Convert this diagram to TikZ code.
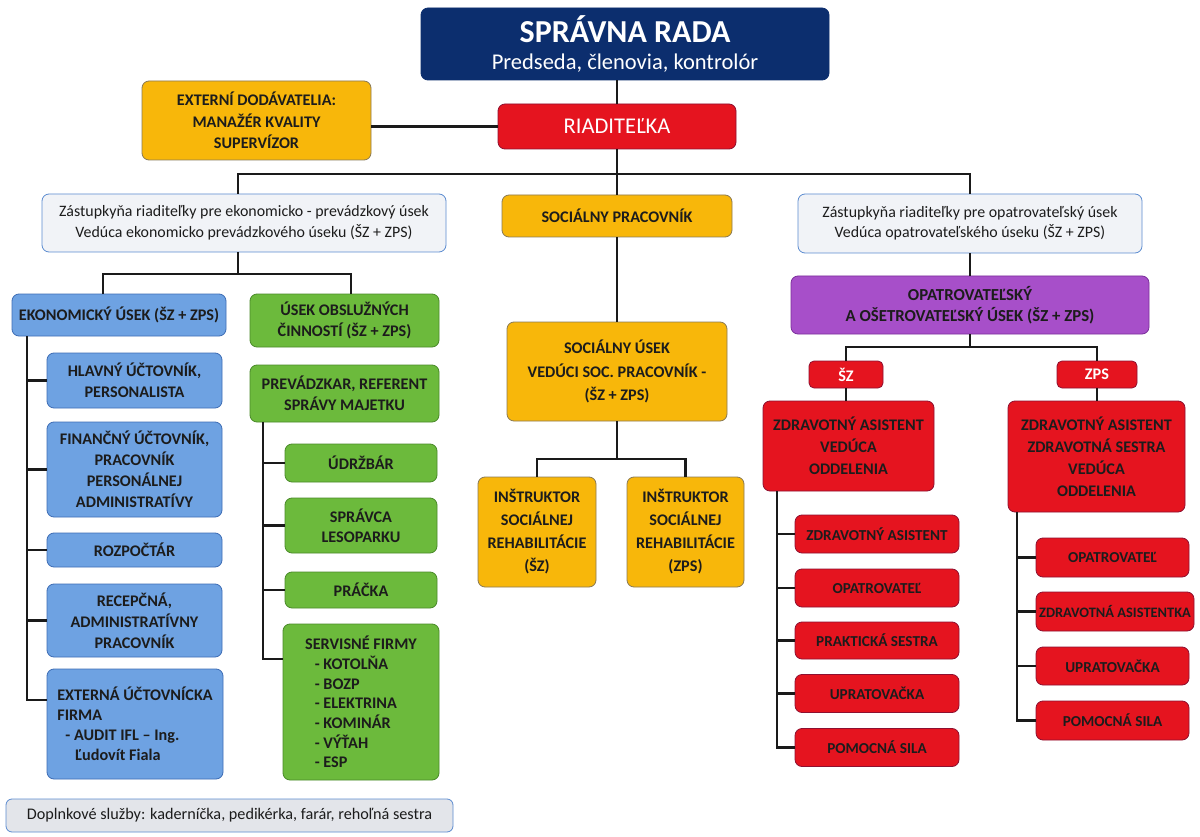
\documentclass[tikz,border=0pt]{standalone}
\usepackage{fontspec}
\setmainfont{Carlito}
\definecolor{cnavy}{HTML}{0C2E6E}
\definecolor{cred}{HTML}{E5141F}
\definecolor{bred}{HTML}{8E1030}
\definecolor{camber}{HTML}{F8B70A}
\definecolor{bamber}{HTML}{8A7A55}
\definecolor{cblue}{HTML}{6EA2E2}
\definecolor{bblue}{HTML}{3E6DB5}
\definecolor{cgreen}{HTML}{6CBA3C}
\definecolor{bgreen}{HTML}{4A8A2A}
\definecolor{cpurple}{HTML}{A74FC9}
\definecolor{bpurple}{HTML}{7A2F9A}
\definecolor{clight}{HTML}{F1F3F7}
\definecolor{blight}{HTML}{5B8BD0}
\definecolor{cgray}{HTML}{E3E5EA}
\definecolor{txt}{HTML}{1C1C1C}
\definecolor{lne}{HTML}{1A1A1A}
\begin{document}
\begin{tikzpicture}[x=1pt,y=-1pt,
  box/.style={draw, rounded corners=7pt, line width=0.8pt, inner sep=0pt, align=center, text=txt},
  bfont/.style={font=\fontsize{16.2}{21}\selectfont\bfseries},
  sfont/.style={font=\fontsize{15.2}{20}\selectfont\bfseries},
  bl/.style={box, bfont, fill=cblue, draw=bblue},
  gr/.style={box, bfont, fill=cgreen, draw=bgreen},
  am/.style={box, bfont, fill=camber, draw=bamber},
  rd/.style={box, bfont, fill=cred, draw=bred},
  rds/.style={box, sfont, fill=cred, draw=bred},
  pu/.style={box, bfont, fill=cpurple, draw=bpurple},
  lt/.style={box, font=\fontsize{15.9}{20.5}\selectfont, fill=clight, draw=blight},
  con/.style={line width=2.2pt, draw=lne}]
\fill[white] (0,0) rectangle (1200,837);
\useasboundingbox (0,0) rectangle (1200,837);

% top
\node[box, fill=cnavy, draw=cnavy, text=white, minimum width=408pt, minimum height=72pt, font=\fontsize{22.5}{27}\selectfont] (sr) at (625,44)
  {{\fontsize{32}{34}\selectfont\bfseries SPRÁVNA RADA}\\Predseda, členovia, kontrolór};
\node[rd, text=white, font=\fontsize{22.5}{26}\selectfont, minimum width=238pt, minimum height=45pt] (riad) at (617,126.5) {RIADITEĽKA};
\node[am, font=\fontsize{16.2}{21.5}\selectfont\bfseries, minimum width=229pt, minimum height=79pt] (ext) at (256.5,120.5) {EXTERNÍ DODÁVATELIA:\\MANAŽÉR KVALITY\\SUPERVÍZOR};

\node[lt, minimum width=404pt, minimum height=58pt] (zl) at (244,223) {Zástupkyňa riaditeľky pre ekonomicko - prevádzkový úsek\\Vedúca ekonomicko prevádzkového úseku (ŠZ + ZPS)};
\node[am, minimum width=230pt, minimum height=42pt] (sp) at (617,216) {SOCIÁLNY PRACOVNÍK};
\node[lt, minimum width=344pt, minimum height=59pt] (zr) at (970,223.5) {Zástupkyňa riaditeľky pre opatrovateľský úsek\\Vedúca opatrovateľského úseku (ŠZ + ZPS)};

% left economic
\node[bl, minimum width=214pt, minimum height=42pt] (ek) at (119,315) {EKONOMICKÝ ÚSEK (ŠZ + ZPS)};
\node[bl, minimum width=175pt, minimum height=55pt] (hl) at (134.5,380.5) {HLAVNÝ ÚČTOVNÍK,\\PERSONALISTA};
\node[bl, minimum width=175pt, minimum height=95pt] (fi) at (134.5,469.5) {FINANČNÝ ÚČTOVNÍK,\\PRACOVNÍK\\PERSONÁLNEJ\\ADMINISTRATÍVY};
\node[bl, minimum width=175pt, minimum height=34pt] (ro) at (134.5,550) {ROZPOČTÁR};
\node[bl, minimum width=175pt, minimum height=73pt] (re) at (134.5,620.5) {RECEPČNÁ,\\ADMINISTRATÍVNY\\PRACOVNÍK};
\node[bl, align=left, font=\fontsize{16.2}{20}\selectfont\bfseries, minimum width=176pt, minimum height=110pt] (ef) at (135,724) {EXTERNÁ ÚČTOVNÍCKA\\FIRMA\\\hspace*{0.5em}- AUDIT IFL -- Ing.\\\hspace*{1.1em}Ľudovít Fiala};

% left services
\node[gr, minimum width=189pt, minimum height=53pt] (ob) at (344.5,320.5) {ÚSEK OBSLUŽNÝCH\\ČINNOSTÍ (ŠZ + ZPS)};
\node[gr, minimum width=189pt, minimum height=57pt] (pv) at (344.5,393.5) {PREVÁDZKAR, REFERENT\\SPRÁVY MAJETKU};
\node[gr, minimum width=152pt, minimum height=38pt] (ud) at (361,463) {ÚDRŽBÁR};
\node[gr, font=\fontsize{16.2}{20}\selectfont\bfseries, minimum width=152pt, minimum height=55pt] (sl) at (361,525.5) {SPRÁVCA\\LESOPARKU};
\node[gr, minimum width=152pt, minimum height=36pt] (pr) at (361,590) {PRÁČKA};
\node[gr, align=left, font=\fontsize{16.2}{19.7}\selectfont\bfseries, minimum width=156pt, minimum height=156pt] (sf) at (361,702) {SERVISNÉ FIRMY\\\hspace*{0.6em}- KOTOLŇA\\\hspace*{0.6em}- BOZP\\\hspace*{0.6em}- ELEKTRINA\\\hspace*{0.6em}- KOMINÁR\\\hspace*{0.6em}- VÝŤAH\\\hspace*{0.6em}- ESP};

\node[box, fill=cgray, draw=blight, font=\fontsize{16.2}{19}\selectfont, minimum width=447pt, minimum height=33pt, rounded corners=6pt] (dop) at (229.5,815.5) {Doplnkové služby: kaderníčka, pedikérka, farár, rehoľná sestra};

% middle
\node[am, font=\fontsize{16.2}{23.5}\selectfont\bfseries, minimum width=220pt, minimum height=99pt] (su) at (617,371.5) {SOCIÁLNY ÚSEK\\VEDÚCI SOC. PRACOVNÍK -\\(ŠZ + ZPS)};
\node[am, font=\fontsize{16.2}{23}\selectfont\bfseries, minimum width=118pt, minimum height=110pt] (i1) at (537,532) {INŠTRUKTOR\\SOCIÁLNEJ\\REHABILITÁCIE\\(ŠZ)};
\node[am, font=\fontsize{16.2}{23}\selectfont\bfseries, minimum width=117pt, minimum height=110pt] (i2) at (685.5,532) {INŠTRUKTOR\\SOCIÁLNEJ\\REHABILITÁCIE\\(ZPS)};

% right
\node[pu, font=\fontsize{16.8}{21}\selectfont\bfseries, minimum width=358pt, minimum height=58pt] (op) at (970,305) {OPATROVATEĽSKÝ\\A OŠETROVATEĽSKÝ ÚSEK (ŠZ + ZPS)};
\node[rd, text=white, minimum width=74pt, minimum height=27pt, rounded corners=5pt] (sz) at (846,374.5) {ŠZ};
\node[rd, text=white, minimum width=80pt, minimum height=27pt, rounded corners=5pt] (zps) at (1097,374.5) {ZPS};
\node[rd, font=\fontsize{16.2}{22}\selectfont\bfseries, minimum width=171pt, minimum height=90pt] (zv) at (848.5,446) {ZDRAVOTNÝ ASISTENT\\VEDÚCA\\ODDELENIA};
\node[rd, font=\fontsize{16.2}{22}\selectfont\bfseries, minimum width=177pt, minimum height=111pt] (zpv) at (1096.5,456.5) {ZDRAVOTNÝ ASISTENT\\ZDRAVOTNÁ SESTRA\\VEDÚCA\\ODDELENIA};

\node[rds, minimum width=164pt, minimum height=38pt] (a1) at (877,534) {ZDRAVOTNÝ ASISTENT};
\node[rds, minimum width=164pt, minimum height=38pt] (a2) at (877,588) {OPATROVATEĽ};
\node[rds, minimum width=164pt, minimum height=37pt] (a3) at (877,640.5) {PRAKTICKÁ SESTRA};
\node[rds, minimum width=164pt, minimum height=38pt] (a4) at (877,693.5) {UPRATOVAČKA};
\node[rds, minimum width=164pt, minimum height=38pt] (a5) at (877,747.5) {POMOCNÁ SILA};

\node[rds, minimum width=153pt, minimum height=39pt] (b1) at (1112.5,557.5) {OPATROVATEĽ};
\node[rds, font=\fontsize{14.4}{20}\selectfont\bfseries, minimum width=158pt, minimum height=39pt] (b2) at (1115,611.5) {ZDRAVOTNÁ ASISTENTKA};
\node[rds, minimum width=153pt, minimum height=38pt] (b3) at (1112.5,666) {UPRATOVAČKA};
\node[rds, minimum width=153pt, minimum height=39pt] (b4) at (1112.5,720.5) {POMOCNÁ SILA};

% connectors
\coordinate (tb) at (617,174);
\draw[con] (riad.north) -- (riad.north |- sr.south);
\draw[con] (riad.west) -- (riad.west -| ext.east);
\draw[con] (riad.south) -- (sp.north);
\draw[con] ([xshift=-6pt]zl.north) |- (tb) -| (zr.north);

\coordinate (zlb) at (238,274);
\draw[con] ([xshift=-6pt]zl.south) -- (zlb);
\draw[con] ([xshift=-16pt]ek.north) |- (zlb) -| ([xshift=6.5pt]ob.north);

\coordinate (ekt) at ([xshift=15pt]ek.south west);
\foreach \n in {hl,fi,ro,re} \draw[con] (ekt) |- (\n.west);
\draw[con] (ekt) |- ([yshift=24pt]ef.west);

\coordinate (pvt) at ([xshift=13pt]pv.south west);
\foreach \n in {ud,sl,pr} \draw[con] (pvt) |- (\n.west);
\draw[con] (pvt) |- ([yshift=43pt]sf.west);

\coordinate (mb) at (617,459);
\draw[con] (sp.south) -- (su.north);
\draw[con] (su.south) -- (mb);
\draw[con] (i1.north) |- (mb) -| (i2.north);

\coordinate (ob2) at (970,347);
\draw[con] (zr.south) -- (op.north);
\draw[con] (op.south) -- (ob2);
\draw[con] (sz.north) |- (ob2) -| (zps.north);
\draw[con] (sz.south) -- (sz.south |- zv.north);
\draw[con] (zps.south) -- (zps.south |- zpv.north);

\coordinate (zvt) at ([xshift=14pt]zv.south west);
\foreach \n in {a1,a2,a3,a4,a5} \draw[con] (zvt) |- (\n.west);
\coordinate (zpt) at ([xshift=9pt]zpv.south west);
\foreach \n in {b1,b2,b3,b4} \draw[con] (zpt) |- (\n.west);
\end{tikzpicture}
\end{document}
